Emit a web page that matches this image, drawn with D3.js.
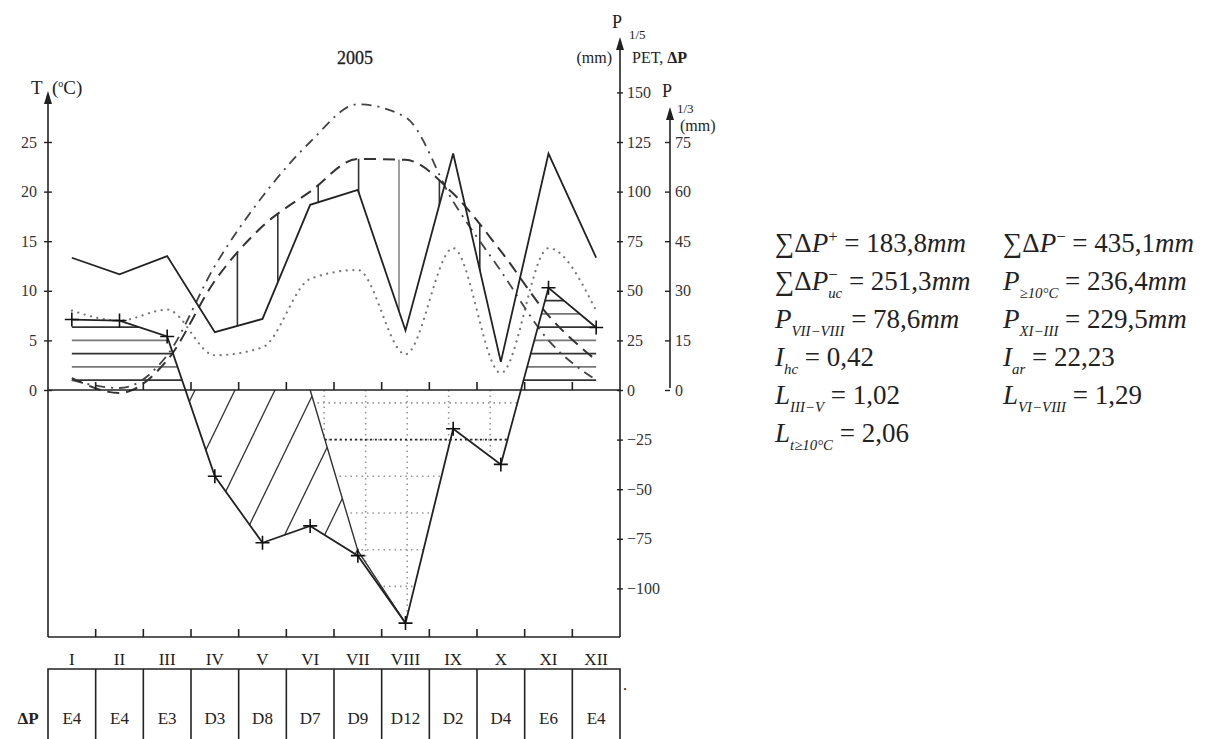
<!DOCTYPE html>
<html>
    <head>
        <meta charset="utf-8" />
        <title>2005</title>
        <style type="text/css">
            body {
                margin: 0;
                background-color: #fff;
            }
            svg {
                display: block;
                font-family: "Liberation Serif", "DejaVu Serif", serif;
            }
            .axis line {
                stroke: #222;
                stroke-width: 1.4px;
            }
            .axis text {
                fill: #333;
            }
        </style>
        <script src="https://d3js.org/d3.v7.min.js"></script>
    </head>
    <body>
        <div id="chart"></div>
        <script type="text/javascript">
            // monthly values
            var months = ["I", "II", "III", "IV", "V", "VI", "VII", "VIII", "IX", "X", "XI", "XII"];
            var precip = [40, 35, 40.5, 17.5, 21.5, 56, 60.5, 18, 71.5, 8.5, 71.5, 40]; // mm
            var temp = [1.2, -0.3, 3.0, 11.0, 16.5, 20.0, 23.3, 23.2, 19.8, 14.0, 7.5, 3.0]; // degC
            var pet = [5, 1, 17.5, 62.5, 97.5, 125, 144, 137.5, 95, 60, 25, 5]; // mm
            var deltaP = [35.5, 35, 27, -43.5, -77, -68.5, -83.5, -117.5, -19.5, -37.5, 51.5, 31.5]; // mm
            var ucMonths = ["VI", "VII", "VIII"];
            var ucDeficit = [0, -81, -117.5]; // mm
            var classes = ["E4", "E4", "E3", "D3", "D8", "D7", "D9", "D12", "D2", "D4", "E6", "E4"];
            var threshold = -25;

            var tTicks = [0, 5, 10, 15, 20, 25];
            var p5Ticks = [150, 125, 100, 75, 50, 25, 0, -25, -50, -75, -100];
            var p3Ticks = [0, 15, 30, 45, 60, 75];

            var formulasLeft = [
                "∑Δ*P*^{+} = 183,8*mm*",
                "∑Δ*P*^{−}_{uc} = 251,3*mm*",
                "*P*_{VII−VIII} = 78,6*mm*",
                "*I*_{hc} = 0,42",
                "*L*_{III−V} = 1,02",
                "*L*_{t≥10°C} = 2,06"
            ];
            var formulasRight = [
                "∑Δ*P*^{−} = 435,1*mm*",
                "*P*_{≥10°C} = 236,4*mm*",
                "*P*_{XI−III} = 229,5*mm*",
                "*I*_{ar} = 22,23",
                "*L*_{VI−VIII} = 1,29"
            ];

            var width = 1222,
                height = 739,
                left = 48,
                right = 620,
                right2 = 670,
                bottom = 637,
                tableTop = 669;

            var svg = d3
                .select("#chart")
                .append("svg")
                .attr("width", width)
                .attr("height", height);

            var x = d3.scaleBand().domain(months).range([left, right]);
            function cx(m) {
                return x(m) + x.bandwidth() / 2;
            }
            var yT = d3.scaleLinear().domain([0, 25]).range([390, 142]);
            var yP5 = d3.scaleLinear().domain([0, 125]).range([390, 142]);
            var yP3 = d3.scaleLinear().domain([0, 75]).range([390, 142]);
            var y0 = yP5(0);

            function mx(d, i) {
                return cx(months[i]);
            }

            // clip regions
            var defs = svg.append("defs");
            function clip(id, d) {
                defs.append("clipPath").attr("id", id).append("path").attr("d", d);
            }
            var poly = d3.line();

            clip("dpLobes", d3.area().x(mx).y0(y0).y1(function (d) { return yP5(d); })(deltaP));
            clip("upper", poly([[left, 0], [right, 0], [right, y0], [left, y0]]) + "Z");

            var ucPts = ucMonths.map(function (m, i) {
                return [cx(m), yP5(ucDeficit[i])];
            });
            var ucEnd = ucPts[ucPts.length - 1];
            clip("leftUc", poly([[left, y0]].concat(ucPts, [[ucEnd[0], bottom], [left, bottom]])) + "Z");
            clip("rightUc", poly(ucPts.concat([[ucEnd[0], bottom], [right, bottom], [right, y0]])) + "Z");

            clip("belowT", d3.area().curve(d3.curveMonotoneX).x(mx).y0(bottom).y1(function (d) { return yT(d); })(temp));
            clip("aboveP", d3.area().x(mx).y0(0).y1(function (d) { return yP3(d); })(precip));

            function clipped(a, b) {
                return svg.append("g").attr("clip-path", "url(#" + a + ")")
                    .append("g").attr("clip-path", "url(#" + b + ")");
            }

            // horizontal hatch: surplus
            clipped("upper", "dpLobes")
                .selectAll("line")
                .data(d3.range(5, 52, 20 / 3))
                .join("line")
                .attr("x1", left)
                .attr("x2", right)
                .attr("y1", function (d) { return yP5(d); })
                .attr("y2", function (d) { return yP5(d); })
                .attr("stroke", function (d, i) { return i % 2 ? "#777" : "#333"; })
                .attr("stroke-width", 1.8);

            // diagonal hatch: covered deficit
            var slope = 2.06;
            clipped("leftUc", "dpLobes")
                .selectAll("line")
                .data(d3.range(x("IV") + 4, right, 40))
                .join("line")
                .attr("x1", function (d) { return d + 60; })
                .attr("y1", y0 - 60 * slope)
                .attr("x2", function (d) { return d - 160; })
                .attr("y2", y0 + 160 * slope)
                .attr("stroke", "#333")
                .attr("stroke-width", 1.3);

            // dotted grid: uncovered deficit
            var gGrid = clipped("rightUc", "dpLobes");
            gGrid.selectAll(".h")
                .data(d3.range(-6.5, -120, -18.5))
                .join("line")
                .attr("class", "h")
                .attr("x1", left)
                .attr("x2", right)
                .attr("y1", function (d) { return yP5(d); })
                .attr("y2", function (d) { return yP5(d); });
            gGrid.selectAll(".v")
                .data(d3.range(cx("VI") + 14, right, 41.5))
                .join("line")
                .attr("class", "v")
                .attr("x1", function (d) { return d; })
                .attr("x2", function (d) { return d; })
                .attr("y1", y0)
                .attr("y2", bottom);
            gGrid.selectAll("line")
                .attr("stroke", "#999")
                .attr("stroke-width", 1.6)
                .attr("stroke-dasharray", "1.5,4");

            // vertical hatch between T and P(1/3)
            clipped("belowT", "aboveP")
                .selectAll("line")
                .data(d3.range(x("IV") + 6, right, 40.4))
                .join("line")
                .attr("x1", function (d) { return d; })
                .attr("x2", function (d) { return d; })
                .attr("y1", 60)
                .attr("y2", y0)
                .attr("stroke", function (d, i) { return i === 5 ? "#888" : "#333"; })
                .attr("stroke-width", 1.6);

            // threshold line at -25 mm
            var xL = d3.scaleLinear().domain([ucDeficit[0], ucDeficit[1]]).range([cx("VI"), cx("VII")])(threshold);
            var xR = d3.scaleLinear().domain([deltaP[9], deltaP[10]]).range([cx("X"), cx("XI")])(threshold);
            svg.append("line")
                .attr("x1", xL)
                .attr("x2", xR)
                .attr("y1", yP5(threshold))
                .attr("y2", yP5(threshold))
                .attr("stroke", "#222")
                .attr("stroke-width", 1.6)
                .attr("stroke-dasharray", "2,3");

            // curves
            svg.append("path")
                .datum(precip)
                .attr("fill", "none")
                .attr("stroke", "#777")
                .attr("stroke-width", 2.2)
                .attr("stroke-linecap", "round")
                .attr("stroke-dasharray", "0.1,6.5")
                .attr("d", d3.line().curve(d3.curveMonotoneX).x(mx).y(function (d) { return yP5(d); }));

            svg.append("path")
                .datum(pet)
                .attr("fill", "none")
                .attr("stroke", "#444")
                .attr("stroke-width", 1.8)
                .attr("stroke-dasharray", "10,6,2,6")
                .attr("d", d3.line().curve(d3.curveMonotoneX).x(mx).y(function (d) { return yP5(d); }));

            svg.append("path")
                .datum(temp)
                .attr("fill", "none")
                .attr("stroke", "#333")
                .attr("stroke-width", 2)
                .attr("stroke-dasharray", "12,7")
                .attr("d", d3.line().curve(d3.curveMonotoneX).x(mx).y(function (d) { return yT(d); }));

            svg.append("path")
                .datum(precip)
                .attr("fill", "none")
                .attr("stroke", "#222")
                .attr("stroke-width", 1.8)
                .attr("d", d3.line().x(mx).y(function (d) { return yP3(d); }));

            svg.append("path")
                .datum(ucDeficit)
                .attr("fill", "none")
                .attr("stroke", "#333")
                .attr("stroke-width", 1.4)
                .attr("d", d3.line()
                    .x(function (d, i) { return cx(ucMonths[i]); })
                    .y(function (d) { return yP5(d); }));

            svg.append("path")
                .datum(deltaP)
                .attr("fill", "none")
                .attr("stroke", "#222")
                .attr("stroke-width", 1.8)
                .attr("d", d3.line().x(mx).y(function (d) { return yP5(d); }));

            svg.selectAll(".cross")
                .data(deltaP)
                .join("path")
                .attr("class", "cross")
                .attr("transform", function (d, i) {
                    return "translate(" + cx(months[i]) + "," + yP5(d) + ")";
                })
                .attr("d", "M-7,0H7M0,-7V7")
                .attr("stroke", "#111")
                .attr("stroke-width", 1.6);

            // frame, zero line, month ticks
            var frame = svg.append("g").attr("stroke", "#222").attr("stroke-width", 1.6);
            frame.append("line").attr("x1", left).attr("x2", left).attr("y1", 100).attr("y2", bottom);
            frame.append("line").attr("x1", right).attr("x2", right).attr("y1", 46).attr("y2", bottom);
            frame.append("line").attr("x1", right2).attr("x2", right2).attr("y1", 116).attr("y2", y0 - 2);
            frame.append("line").attr("x1", left).attr("x2", right).attr("y1", y0).attr("y2", y0);
            frame.append("line").attr("x1", left).attr("x2", right).attr("y1", bottom).attr("y2", bottom);
            [y0, bottom].forEach(function (yy) {
                frame.append("g")
                    .selectAll("line")
                    .data(months.slice(1))
                    .join("line")
                    .attr("x1", function (m) { return x(m); })
                    .attr("x2", function (m) { return x(m); })
                    .attr("y1", yy - 8)
                    .attr("y2", yy);
            });

            svg.append("path").attr("d", "M48,91L44,104L52,104Z").attr("fill", "#222");
            svg.append("path").attr("d", "M620,37L616,50L624,50Z").attr("fill", "#222");
            svg.append("path").attr("d", "M670,107L666,120L674,120Z").attr("fill", "#222");

            // axes
            function styleAxis(g) {
                g.attr("font-family", "Liberation Serif").attr("font-size", 16);
                g.select(".domain").remove();
            }
            var gL = svg.append("g")
                .attr("class", "axis")
                .attr("transform", "translate(" + left + ",0)")
                .call(d3.axisLeft(yT).tickValues(tTicks).tickSize(4).tickPadding(7));
            styleAxis(gL);
            gL.selectAll(".tick line").attr("x1", 4).attr("x2", -4);

            var minus = function (d) { return d < 0 ? "−" + -d : d; };
            var gR = svg.append("g")
                .attr("class", "axis")
                .attr("transform", "translate(" + right + ",0)")
                .call(d3.axisRight(yP5).tickValues(p5Ticks).tickFormat(minus).tickSize(3).tickPadding(4));
            styleAxis(gR);
            gR.selectAll(".tick line").attr("x1", -3).attr("x2", 3);

            var gR2 = svg.append("g")
                .attr("class", "axis")
                .attr("transform", "translate(" + right2 + ",0)")
                .call(d3.axisRight(yP3).tickValues(p3Ticks).tickSize(0).tickPadding(5));
            styleAxis(gR2);
            gR2.selectAll(".tick line").attr("x1", -5).attr("x2", 0);

            // axis titles
            var txt = svg.append("g").attr("fill", "#222").attr("font-size", 16)
                .attr("font-family", "Liberation Serif");
            txt.append("text").attr("x", 355).attr("y", 64).attr("text-anchor", "middle")
                .attr("font-size", 18).attr("stroke", "#222").attr("stroke-width", 0.3).text("2005");
            txt.append("text").attr("x", 31).attr("y", 94).attr("font-size", 19).text("T");
            var tc = txt.append("text").attr("x", 52).attr("y", 94).attr("font-size", 19);
            tc.append("tspan").text("(");
            tc.append("tspan").attr("font-size", 10).attr("dy", -7).text("o");
            tc.append("tspan").attr("dy", 7).text("C)");
            txt.append("text").attr("x", 612).attr("y", 28).attr("font-size", 18).text("P");
            txt.append("text").attr("x", 629).attr("y", 39).attr("font-size", 13).text("1/5");
            txt.append("text").attr("x", 612).attr("y", 63).attr("text-anchor", "end").text("(mm)");
            var pt = txt.append("text").attr("x", 632).attr("y", 63);
            pt.append("tspan").text("PET, ");
            pt.append("tspan").attr("font-weight", "bold").text("ΔP");
            txt.append("text").attr("x", 662).attr("y", 97).attr("font-size", 18).text("P");
            txt.append("text").attr("x", 677).attr("y", 113).attr("font-size", 13).text("1/3");
            txt.append("text").attr("x", 680).attr("y", 131).text("(mm)");

            // month labels
            txt.append("g")
                .selectAll("text")
                .data(months)
                .join("text")
                .attr("x", function (m) { return cx(m); })
                .attr("y", 665)
                .attr("text-anchor", "middle")
                .attr("font-size", 17)
                .text(function (m) { return m; });

            // table of dP classes
            var tb = svg.append("g").attr("stroke", "#222").attr("stroke-width", 1.6).attr("fill", "none");
            tb.append("path").attr("d", poly([[left, height + 5], [left, tableTop], [right, tableTop], [right, height + 5]]));
            tb.selectAll(".sep")
                .data(months.slice(1))
                .join("line")
                .attr("class", "sep")
                .attr("x1", function (m) { return x(m); })
                .attr("x2", function (m) { return x(m); })
                .attr("y1", tableTop)
                .attr("y2", height + 5);
            txt.append("g")
                .selectAll("text")
                .data(classes)
                .join("text")
                .attr("x", function (d, i) { return cx(months[i]); })
                .attr("y", 724)
                .attr("text-anchor", "middle")
                .attr("font-size", 17)
                .text(function (d) { return d; });
            txt.append("text").attr("x", 28).attr("y", 724).attr("text-anchor", "middle")
                .attr("font-size", 17).attr("font-weight", "bold").text("ΔP");
            txt.append("text").attr("x", 623).attr("y", 690).text(".");

            // formulas
            function richText(sel, str, size) {
                var parts = str.match(/\^\{[^}]*\}|_\{[^}]*\}|\*[^*]*\*|[^*^_]+/g);
                var base = +sel.attr("y");
                var supW = 0;
                parts.forEach(function (p) {
                    var t = sel.append("tspan");
                    if (p[0] === "^") {
                        t.text(p.slice(2, -1)).attr("font-size", size * 0.62).attr("y", base - size * 0.38);
                        supW = t.node().getComputedTextLength();
                        return;
                    }
                    if (p[0] === "_") {
                        t.text(p.slice(2, -1))
                            .attr("font-size", size * 0.55)
                            .attr("font-style", "italic")
                            .attr("y", base + size * 0.3);
                        if (supW) t.attr("dx", -supW);
                    } else if (p[0] === "*") {
                        t.text(p.slice(1, -1)).attr("font-style", "italic").attr("y", base);
                    } else {
                        t.text(p).attr("y", base);
                    }
                    supW = 0;
                });
            }
            var fSize = 27;
            var rowY = d3.scaleLinear().domain([0, 1]).range([252, 290]);
            [[formulasLeft, 775], [formulasRight, 1003]].forEach(function (col) {
                col[0].forEach(function (f, i) {
                    var t = svg.append("text")
                        .attr("x", col[1])
                        .attr("y", rowY(i))
                        .attr("font-family", "Liberation Serif")
                        .attr("font-size", fSize)
                        .attr("fill", "#222")
                        .attr("xml:space", "preserve");
                    richText(t, f, fSize);
                });
            });
        </script>
    </body>
</html>
